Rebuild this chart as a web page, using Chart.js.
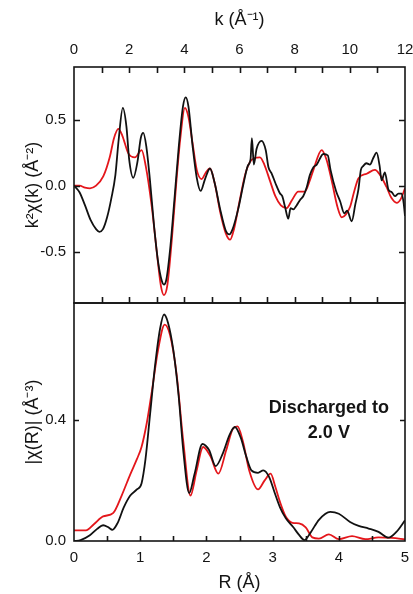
<!DOCTYPE html>
<html>
<head>
<meta charset="utf-8">
<script src="https://cdn.jsdelivr.net/npm/chart.js@4/dist/chart.umd.min.js"></script>
<style>
  html, body { margin: 0; padding: 0; background: #ffffff; }
  #wrap { position: relative; width: 413px; height: 594px; overflow: hidden; }
  #kChart { position: absolute; left: 0; top: 0; }
  #rChart { position: absolute; left: 0; top: 295px; }
</style>
</head>
<body>
<div id="wrap">
  <canvas id="kChart" width="413" height="305"></canvas>
  <canvas id="rChart" width="413" height="299"></canvas>
</div>
<script>
// k-space: datos (negro) y ajuste (rojo)
const kData = [0.0, 0.2, 0.4, 0.6, 0.8, 0.92, 1.05, 1.2, 1.35, 1.5, 1.62, 1.77, 1.9, 2.0, 2.15, 2.3, 2.42, 2.51, 2.62, 2.75, 2.9, 3.05, 3.18, 3.26, 3.35, 3.5, 3.65, 3.8, 3.95, 4.05, 4.15, 4.3, 4.45, 4.59, 4.75, 4.93, 5.1, 5.3, 5.5, 5.63, 5.75, 5.95, 6.15, 6.3, 6.4, 6.45, 6.52, 6.62, 6.8, 6.95, 7.05, 7.17, 7.3, 7.47, 7.55, 7.65, 7.77, 7.85, 7.95, 8.07, 8.19, 8.31, 8.44, 8.55, 8.68, 8.8, 9.04, 9.2, 9.3, 9.5, 9.65, 9.8, 9.9, 10.07, 10.2, 10.31, 10.4, 10.49, 10.6, 10.73, 10.85, 10.97, 11.08, 11.15, 11.27, 11.4, 11.52, 11.64, 11.76, 11.88, 11.95, 12.0];
const chiKData = [0.0, -0.05, -0.15, -0.26, -0.33, -0.35, -0.33, -0.24, -0.10, 0.08, 0.35, 0.59, 0.45, 0.20, 0.06, 0.18, 0.36, 0.40, 0.30, 0.05, -0.30, -0.58, -0.72, -0.75, -0.71, -0.45, -0.08, 0.30, 0.60, 0.67, 0.60, 0.30, 0.06, -0.04, 0.05, 0.13, 0.02, -0.18, -0.34, -0.37, -0.33, -0.18, 0.02, 0.15, 0.20, 0.36, 0.16, 0.28, 0.34, 0.27, 0.14, 0.09, 0.02, -0.06, -0.08, -0.16, -0.25, -0.17, -0.18, -0.15, -0.11, -0.08, -0.01, 0.08, 0.14, 0.16, 0.24, 0.23, 0.12, -0.04, -0.12, -0.21, -0.19, -0.27, -0.14, -0.03, 0.12, 0.15, 0.17, 0.16, 0.21, 0.25, 0.15, 0.04, 0.10, -0.03, -0.05, -0.08, -0.06, -0.06, -0.13, -0.23];
const kFit = [0.0, 0.2, 0.4, 0.58, 0.8, 1.06, 1.3, 1.45, 1.61, 1.75, 1.97, 2.21, 2.45, 2.6, 2.82, 3.0, 3.15, 3.26, 3.38, 3.55, 3.7, 3.85, 4.02, 4.15, 4.3, 4.45, 4.63, 4.78, 4.93, 5.1, 5.3, 5.5, 5.66, 5.8, 6.0, 6.2, 6.38, 6.55, 6.74, 6.9, 7.1, 7.3, 7.5, 7.71, 7.9, 8.13, 8.37, 8.55, 8.68, 8.98, 9.15, 9.34, 9.55, 9.71, 9.85, 10.01, 10.15, 10.31, 10.61, 10.91, 11.1, 11.33, 11.5, 11.7, 11.85, 12.0];
const chiKFit = [0.0, 0.0, -0.015, -0.02, 0.0, 0.07, 0.22, 0.36, 0.43, 0.38, 0.245, 0.215, 0.27, 0.15, -0.16, -0.50, -0.76, -0.83, -0.76, -0.40, 0.0, 0.35, 0.59, 0.52, 0.32, 0.12, 0.05, 0.10, 0.13, 0.02, -0.20, -0.36, -0.41, -0.33, -0.12, 0.08, 0.18, 0.21, 0.215, 0.16, 0.04, -0.08, -0.15, -0.17, -0.11, -0.045, -0.045, 0.04, 0.12, 0.27, 0.20, 0.04, -0.16, -0.24, -0.22, -0.16, -0.05, 0.055, 0.09, 0.12, 0.08, -0.01, -0.09, -0.13, -0.10, -0.02];

// R-space: |chi(R)|
const rData = [0.0, 0.1, 0.24, 0.35, 0.44, 0.52, 0.58, 0.66, 0.75, 0.85, 0.95, 1.02, 1.08, 1.15, 1.22, 1.3, 1.36, 1.42, 1.5, 1.58, 1.65, 1.74, 1.82, 1.94, 2.04, 2.14, 2.25, 2.35, 2.43, 2.52, 2.6, 2.68, 2.78, 2.86, 2.95, 3.03, 3.11, 3.2, 3.31, 3.4, 3.48, 3.58, 3.7, 3.87, 4.0, 4.17, 4.3, 4.45, 4.6, 4.75, 4.87, 5.0];
const chiRData = [0.0, 0.003, 0.019, 0.04, 0.052, 0.045, 0.037, 0.06, 0.11, 0.15, 0.17, 0.19, 0.27, 0.42, 0.57, 0.70, 0.747, 0.72, 0.63, 0.48, 0.30, 0.158, 0.22, 0.32, 0.30, 0.247, 0.29, 0.35, 0.376, 0.34, 0.28, 0.233, 0.225, 0.233, 0.21, 0.16, 0.112, 0.075, 0.046, 0.02, 0.003, 0.03, 0.07, 0.096, 0.09, 0.063, 0.05, 0.041, 0.03, 0.011, 0.03, 0.068];
const rFit = [0.0, 0.18, 0.3, 0.44, 0.59, 0.72, 0.85, 0.95, 1.02, 1.1, 1.17, 1.27, 1.37, 1.45, 1.55, 1.65, 1.76, 1.85, 1.95, 2.06, 2.18, 2.3, 2.4, 2.47, 2.55, 2.65, 2.78, 2.88, 2.97, 3.04, 3.11, 3.2, 3.3, 3.4, 3.5, 3.6, 3.7, 3.85, 4.0, 4.2, 4.4, 4.6, 4.8, 5.0];
const chiRFit = [0.035, 0.035, 0.055, 0.081, 0.092, 0.15, 0.22, 0.27, 0.31, 0.39, 0.485, 0.63, 0.714, 0.68, 0.55, 0.33, 0.15, 0.23, 0.31, 0.28, 0.222, 0.30, 0.37, 0.378, 0.33, 0.23, 0.17, 0.20, 0.222, 0.18, 0.13, 0.08, 0.06, 0.058, 0.045, 0.012, 0.008, 0.022, 0.006, 0.016, 0.006, 0.012, 0.01, 0.005];

// ticks
const kTickLabels = [0, 2, 4, 6, 8, 10, 12];
const kMinorTicks = [1, 2, 3, 4, 5, 6, 7, 8, 9, 10, 11];
const chiKTicks = [-0.5, 0, 0.5];
const rTickLabels = [0, 1, 2, 3, 4, 5];
const rMinorTicks = [0.5, 1, 1.5, 2, 2.5, 3, 3.5, 4, 4.5];
const chiRTicks = [0, 0.4];

const FONT = "'Liberation Sans', Arial, sans-serif";
const INK = '#141414';
const BLACK = '#111111';
const RED = '#e4161b';

const pts = (xs, ys) => xs.map((x, i) => ({ x, y: ys[i] }));

// marco + ticks hacia adentro, posicionados con las escalas de Chart.js
const frameTicks = {
  id: 'frameTicks',
  afterDatasetsDraw(chart, args, opts) {
    const { ctx, chartArea: a, scales } = chart;
    const len = opts.len || 6;
    ctx.save();
    ctx.strokeStyle = INK;
    ctx.lineWidth = 1.6;
    ctx.beginPath();
    (opts.xTicks || []).forEach((v) => {
      const px = Math.round(scales.x.getPixelForValue(v)) + 0.5;
      if (opts.top) { ctx.moveTo(px, a.top); ctx.lineTo(px, a.top + len); }
      if (opts.bottom) { ctx.moveTo(px, a.bottom); ctx.lineTo(px, a.bottom - len); }
    });
    (opts.yTicks || []).forEach((v) => {
      const py = Math.round(scales.y.getPixelForValue(v)) + 0.5;
      ctx.moveTo(a.left, py); ctx.lineTo(a.left + len, py);
      ctx.moveTo(a.right, py); ctx.lineTo(a.right - len, py);
    });
    ctx.stroke();
    ctx.strokeRect(a.left, a.top, a.right - a.left, a.bottom - a.top);
    (opts.notes || []).forEach((n) => {
      ctx.fillStyle = INK;
      ctx.font = `bold 18px ${FONT}`;
      ctx.textAlign = 'center';
      ctx.textBaseline = 'middle';
      ctx.fillText(n.text, scales.x.getPixelForValue(n.x), scales.y.getPixelForValue(n.y));
    });
    ctx.restore();
  },
};

// tamaños fijos de los ejes para que ambos paneles queden alineados
function fixX(height) {
  return (s) => { s.height = height; s.paddingLeft = 0; s.paddingRight = 0; };
}
function fixY(width) {
  return (s) => { s.width = width; s.paddingTop = 0; s.paddingBottom = 0; };
}

function lineSet(data, color) {
  return {
    data,
    borderColor: color,
    borderWidth: 1.8,
    pointRadius: 0,
    cubicInterpolationMode: 'monotone',
    fill: false,
  };
}

new Chart(document.getElementById('kChart'), {
  type: 'line',
  data: {
    datasets: [
      lineSet(pts(kData, chiKData), BLACK),
      lineSet(pts(kFit, chiKFit), RED),
    ],
  },
  plugins: [frameTicks],
  options: {
    responsive: false,
    animation: false,
    events: [],
    layout: { padding: { top: 0, right: 8, bottom: 2, left: 0 } },
    plugins: {
      legend: { display: false },
      tooltip: { enabled: false },
      frameTicks: { xTicks: kMinorTicks, yTicks: chiKTicks, top: true, bottom: true, len: 6 },
    },
    scales: {
      x: {
        type: 'linear',
        position: 'top',
        min: 0,
        max: 12,
        grid: { display: false, drawTicks: false },
        border: { display: false },
        afterBuildTicks: (s) => { s.ticks = kTickLabels.map((value) => ({ value })); },
        afterFit: fixX(67),
        ticks: { color: INK, font: { family: FONT, size: 15 }, padding: 8, maxRotation: 0 },
        title: { display: true, text: 'k (Å⁻¹)', color: INK, font: { family: FONT, size: 18 }, padding: { top: 9, bottom: 0 } },
      },
      y: {
        min: -0.89,
        max: 0.9,
        grid: { display: false, drawTicks: false },
        border: { display: false },
        afterBuildTicks: (s) => { s.ticks = chiKTicks.map((value) => ({ value })); },
        afterFit: fixY(74),
        ticks: { color: INK, font: { family: FONT, size: 15 }, padding: 8, callback: (v) => v.toFixed(1) },
        title: { display: true, text: 'k²χ(k) (Å⁻²)', color: INK, font: { family: FONT, size: 18 }, padding: { top: 22, bottom: 0 } },
      },
    },
  },
});

new Chart(document.getElementById('rChart'), {
  type: 'line',
  data: {
    datasets: [
      lineSet(pts(rData, chiRData), BLACK),
      lineSet(pts(rFit, chiRFit), RED),
    ],
  },
  plugins: [frameTicks],
  options: {
    responsive: false,
    animation: false,
    events: [],
    layout: { padding: { top: 8, right: 8, bottom: 0, left: 0 } },
    plugins: {
      legend: { display: false },
      tooltip: { enabled: false },
      frameTicks: {
        xTicks: rMinorTicks,
        yTicks: [0.4],
        bottom: true,
        len: 5,
        notes: [
          { x: 3.85, y: 0.437, text: 'Discharged to' },
          { x: 3.85, y: 0.355, text: '2.0 V' },
        ],
      },
    },
    scales: {
      x: {
        type: 'linear',
        position: 'bottom',
        min: 0,
        max: 5,
        grid: { display: false, drawTicks: false },
        border: { display: false },
        afterBuildTicks: (s) => { s.ticks = rTickLabels.map((value) => ({ value })); },
        afterFit: fixX(53),
        ticks: { color: INK, font: { family: FONT, size: 15 }, padding: 8, maxRotation: 0 },
        title: { display: true, text: 'R (Å)', color: INK, font: { family: FONT, size: 18 }, padding: { top: 2, bottom: 0 } },
      },
      y: {
        min: 0,
        max: 0.785,
        grid: { display: false, drawTicks: false },
        border: { display: false },
        afterBuildTicks: (s) => { s.ticks = chiRTicks.map((value) => ({ value })); },
        afterFit: fixY(74),
        ticks: { color: INK, font: { family: FONT, size: 15 }, padding: 8, callback: (v) => v.toFixed(1) },
        title: { display: true, text: '|χ(R)| (Å⁻³)', color: INK, font: { family: FONT, size: 18 }, padding: { top: 22, bottom: 0 } },
      },
    },
  },
});
</script>
</body>
</html>
